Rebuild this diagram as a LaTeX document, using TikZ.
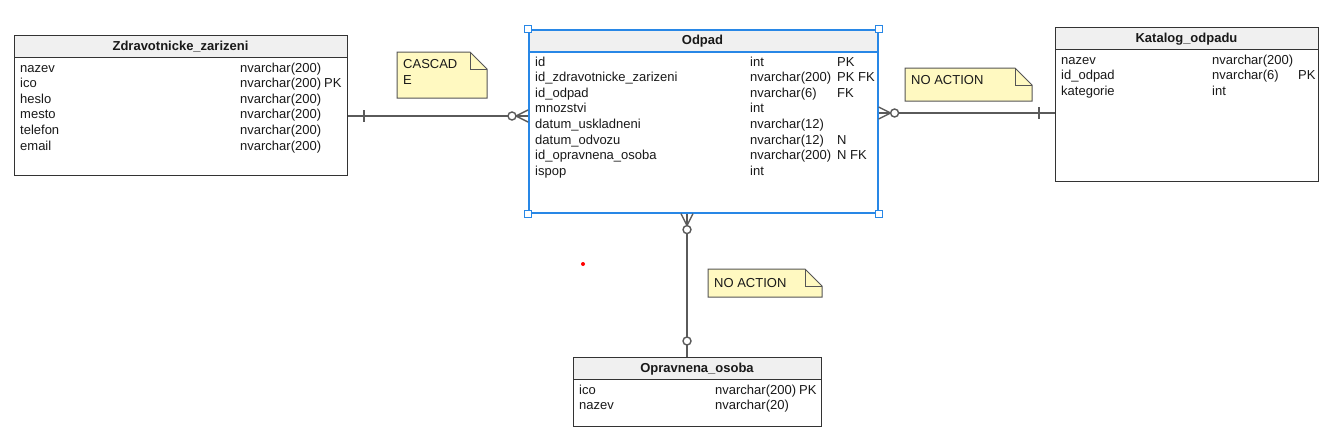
\documentclass[tikz,border=0pt]{standalone}
\usepackage{fontspec}
\setmainfont{Liberation Sans}
\usetikzlibrary{calc}
\definecolor{tblline}{RGB}{51,51,51}
\definecolor{hdrfill}{RGB}{240,240,240}
\definecolor{selblue}{RGB}{40,135,230}
\definecolor{notefill}{RGB}{255,249,193}
\definecolor{noteline}{RGB}{85,85,85}
\definecolor{connline}{RGB}{90,90,90}
\definecolor{txt}{RGB}{25,25,25}
\newcommand\erRow{\fontsize{13}{15.6}\selectfont}
\newcommand\erHead{\fontsize{13}{15.6}\selectfont\bfseries}
\begin{document}
\begin{tikzpicture}[x=1pt,y=-1pt,
  tbl/.style={draw=tblline, line width=1pt, fill=white, inner sep=0pt, anchor=north west},
  hdr/.style={draw=tblline, line width=1pt, fill=hdrfill, inner sep=0pt, anchor=north west, minimum height=22pt},
  seltbl/.style={tbl, draw=selblue, line width=1.6pt},
  selhdr/.style={hdr, draw=selblue, line width=1.6pt},
  handle/.style={draw=selblue, line width=1pt, fill=white, inner sep=0pt, minimum size=7pt},
  row/.style={anchor=base west, inner sep=0pt, font=\erRow, text=txt},
  head/.style={anchor=base, inner sep=0pt, font=\erHead, text=txt},
  notetxt/.style={anchor=base west, inner sep=0pt, font=\erRow, text=txt},
  conn/.style={draw=connline, line width=1.4pt},
  note/.style={draw=noteline, line width=1pt, fill=notefill},
  fold/.style={draw=noteline, line width=1pt}]
\useasboundingbox (0,0) rectangle (1333,447);
\fill[white] (0,0) rectangle (1333,447);

% ---------- Zdravotnicke_zarizeni ----------
\node[tbl, minimum width=333pt, minimum height=140pt] (zz) at (14,35) {};
\node[hdr, minimum width=333pt] (zzh) at (zz.north west) {};
\node[head] (zzt) at (180.5,50) {Zdravotnicke\_zarizeni};
\node[row] (zz1) at (20,72) {nazev};
\node[row] (zz2) at (20,87.6) {ico};
\node[row] (zz3) at (20,103.2) {heslo};
\node[row] (zz4) at (20,118.8) {mesto};
\node[row] (zz5) at (20,134.4) {telefon};
\node[row] (zz6) at (20,150) {email};
\node[row] (zz1t) at (240,72) {nvarchar(200)};
\node[row] (zz2t) at (240,87.6) {nvarchar(200)};
\node[row] (zz2k) at (324,87.6) {PK};
\node[row] (zz3t) at (240,103.2) {nvarchar(200)};
\node[row] (zz4t) at (240,118.8) {nvarchar(200)};
\node[row] (zz5t) at (240,134.4) {nvarchar(200)};
\node[row] (zz6t) at (240,150) {nvarchar(200)};

% ---------- Katalog_odpadu ----------
\node[tbl, minimum width=263pt, minimum height=154pt] (kat) at (1055,27) {};
\node[hdr, minimum width=263pt] (kath) at (kat.north west) {};
\node[head] (katt) at (1186.5,42) {Katalog\_odpadu};
\node[row] (kat1) at (1061,64) {nazev};
\node[row] (kat2) at (1061,79.6) {id\_odpad};
\node[row] (kat3) at (1061,95.2) {kategorie};
\node[row] (kat1t) at (1212,64) {nvarchar(200)};
\node[row] (kat2t) at (1212,79.6) {nvarchar(6)};
\node[row] (kat2k) at (1298,79.6) {PK};
\node[row] (kat3t) at (1212,95.2) {int};

% ---------- Opravnena_osoba ----------
\node[tbl, minimum width=248pt, minimum height=69pt] (op) at (573,357) {};
\node[hdr, minimum width=248pt] (oph) at (op.north west) {};
\node[head] (opt) at (697,372) {Opravnena\_osoba};
\node[row] (op1) at (579,394) {ico};
\node[row] (op2) at (579,409.6) {nazev};
\node[row] (op1t) at (715,394) {nvarchar(200)};
\node[row] (op1k) at (799,394) {PK};
\node[row] (op2t) at (715,409.6) {nvarchar(20)};

% ---------- Notes ----------
\path[note] (397,52) -- (470,52) -- (487,69) -- (487,98) -- (397,98) -- cycle;
\draw[fold] (470,52) -- (470,69) -- (487,69);
\node[notetxt] (n1a) at (403,68) {CASCAD};
\node[notetxt] (n1b) at (403,84) {E};

\path[note] (905,68) -- (1015,68) -- (1032,85) -- (1032,101) -- (905,101) -- cycle;
\draw[fold] (1015,68) -- (1015,85) -- (1032,85);
\node[notetxt] (n2) at (911,84) {NO ACTION};

\path[note] (708,269) -- (805,269) -- (822,286) -- (822,297) -- (708,297) -- cycle;
\draw[fold] (805,269) -- (805,286) -- (822,286);
\node[notetxt] (n3) at (714,287) {NO ACTION};

% ---------- Odpad (selected) ----------
\node[seltbl, minimum width=349pt, minimum height=183pt] (od) at (528,29) {};
\node[selhdr, minimum width=349pt] (odh) at (od.north west) {};
\node[head] (odt) at (702.5,44) {Odpad};
\node[row] (od1) at (535,66) {id};
\node[row] (od2) at (535,81.6) {id\_zdravotnicke\_zarizeni};
\node[row] (od3) at (535,97.2) {id\_odpad};
\node[row] (od4) at (535,112.8) {mnozstvi};
\node[row] (od5) at (535,128.4) {datum\_uskladneni};
\node[row] (od6) at (535,144) {datum\_odvozu};
\node[row] (od7) at (535,159.6) {id\_opravnena\_osoba};
\node[row] (od8) at (535,175.2) {ispop};
\node[row] (od1t) at (750,66) {int};
\node[row] (od2t) at (750,81.6) {nvarchar(200)};
\node[row] (od3t) at (750,97.2) {nvarchar(6)};
\node[row] (od4t) at (750,112.8) {int};
\node[row] (od5t) at (750,128.4) {nvarchar(12)};
\node[row] (od6t) at (750,144) {nvarchar(12)};
\node[row] (od7t) at (750,159.6) {nvarchar(200)};
\node[row] (od8t) at (750,175.2) {int};
\node[row] (od1k) at (837,66) {PK};
\node[row] (od2k) at (837,81.6) {PK FK};
\node[row] (od3k) at (837,97.2) {FK};
\node[row] (od6k) at (837,144) {N};
\node[row] (od7k) at (837,159.6) {N FK};

% ---------- Connectors ----------
\coordinate (j1) at (0,116);
\coordinate (j2) at (0,113);
\coordinate (j3) at (687,0);

% Zdravotnicke_zarizeni -- Odpad
\draw[conn] (zz.east |- j1) -- (od.west |- j1);
\draw[conn] ($(zz.east |- j1)+(16,-6)$) -- ++(0,12);
\draw[conn] ($(od.west |- j1)+(-12,0)$) -- ($(od.west |- j1)+(0,-6)$);
\draw[conn] ($(od.west |- j1)+(-12,0)$) -- ($(od.west |- j1)+(0,6)$);
\draw[conn, fill=white] ($(od.west |- j1)+(-16,0)$) circle (4);

% Odpad -- Katalog_odpadu
\draw[conn] (od.east |- j2) -- (kat.west |- j2);
\draw[conn] ($(kat.west |- j2)+(-16,-6)$) -- ++(0,12);
\draw[conn] ($(od.east |- j2)+(12,0)$) -- ($(od.east |- j2)+(0,-6)$);
\draw[conn] ($(od.east |- j2)+(12,0)$) -- ($(od.east |- j2)+(0,6)$);
\draw[conn, fill=white] ($(od.east |- j2)+(16,0)$) circle (4);

% Odpad -- Opravnena_osoba
\draw[conn] (od.south -| j3) -- (op.north -| j3);
\draw[conn] ($(od.south -| j3)+(0,12)$) -- ($(od.south -| j3)+(-6,0)$);
\draw[conn] ($(od.south -| j3)+(0,12)$) -- ($(od.south -| j3)+(6,0)$);
\draw[conn, fill=white] ($(od.south -| j3)+(0,16)$) circle (4);
\draw[conn, fill=white] ($(op.north -| j3)+(0,-16)$) circle (4);

% selection handles
\node[handle] (hnw) at (od.north west) {};
\node[handle] (hne) at (od.north east) {};
\node[handle] (hsw) at (od.south west) {};
\node[handle] (hse) at (od.south east) {};

% red dot
\fill[red] (583,264) circle (2);
\end{tikzpicture}
\end{document}
